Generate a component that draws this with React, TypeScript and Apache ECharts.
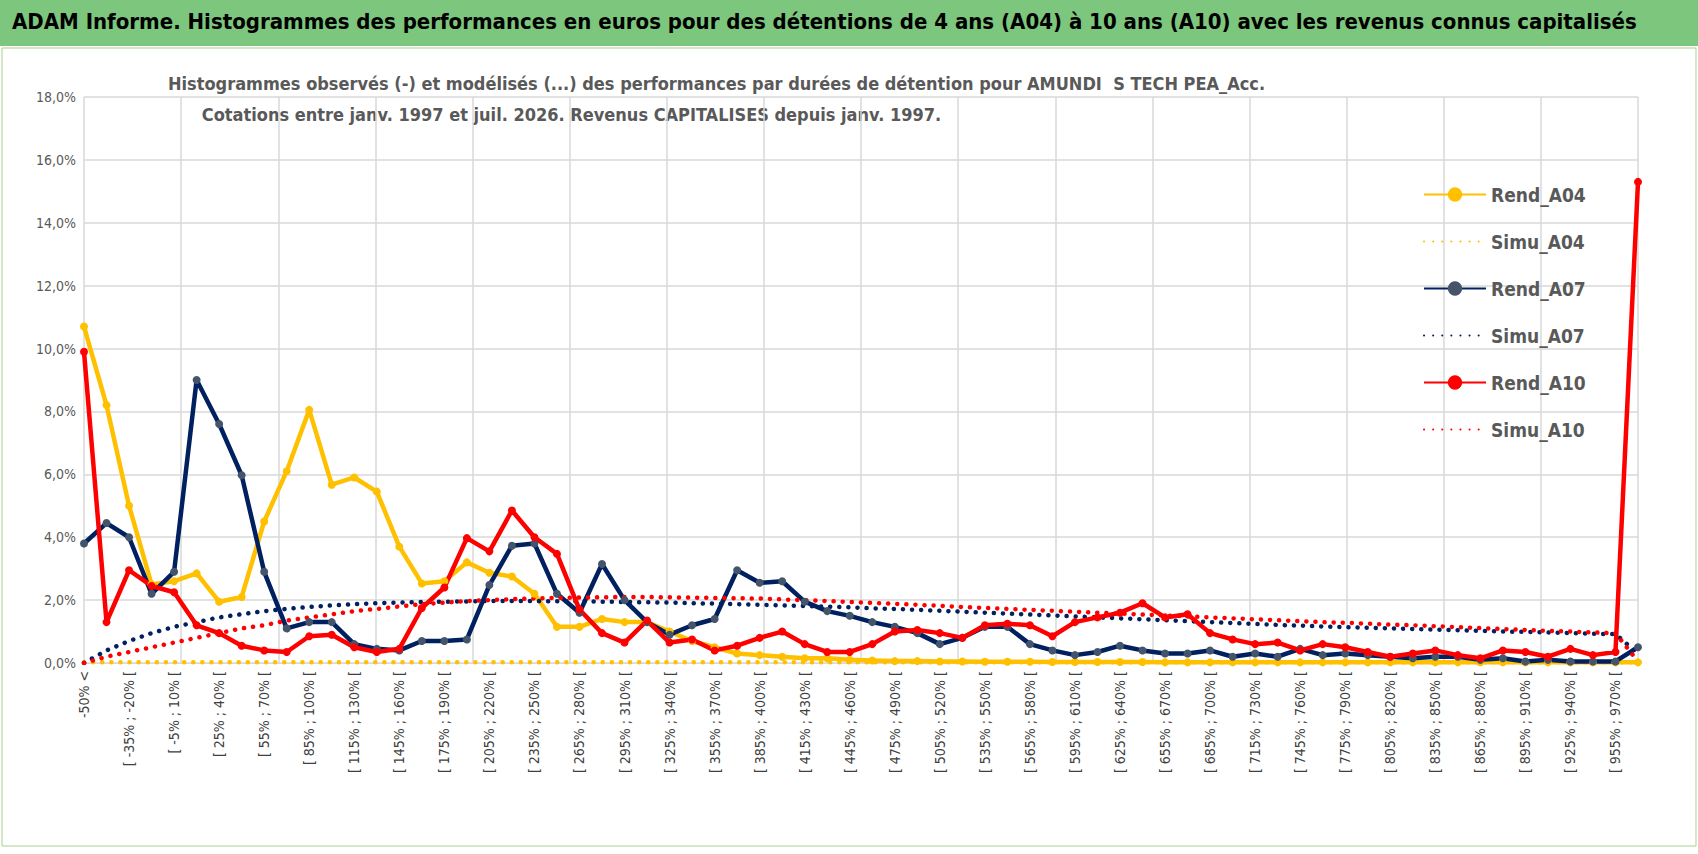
import React, { useEffect, useRef } from "react";
import * as echarts from "echarts";

const starts: number[] = [];
for (let a = -50; a <= 955; a += 15) starts.push(a);
const categories: string[] = ["-50% <", ...starts.map((a) => `[ ${a}% ; ${a + 15}% [`), "985% >="];

const rendA04 = [10.7, 8.2, 5.0, 2.5, 2.6, 2.85, 1.95, 2.1, 4.5, 6.1, 8.05, 5.67, 5.9, 5.45, 3.7, 2.53, 2.6, 3.2, 2.87, 2.75, 2.2, 1.15, 1.15, 1.4, 1.3, 1.3, 1.0, 0.7, 0.5, 0.3, 0.25, 0.2, 0.15, 0.15, 0.1, 0.08, 0.06, 0.06, 0.05, 0.05, 0.04, 0.04, 0.04, 0.03, 0.03, 0.03, 0.03, 0.03, 0.02, 0.02, 0.02, 0.02, 0.02, 0.02, 0.02, 0.02, 0.02, 0.02, 0.02, 0.02, 0.02, 0.02, 0.02, 0.02, 0.02, 0.02, 0.02, 0.02, 0.02, 0.02];
const simuA04 = [0.02, 0.02, 0.02, 0.02, 0.02, 0.02, 0.02, 0.02, 0.02, 0.02, 0.02, 0.02, 0.02, 0.02, 0.02, 0.02, 0.02, 0.02, 0.02, 0.02, 0.02, 0.02, 0.02, 0.02, 0.02, 0.02, 0.02, 0.02, 0.02, 0.02, 0.02, 0.02, 0.02, 0.02, 0.02, 0.02, 0.02, 0.02, 0.02, 0.02, 0.02, 0.02, 0.02, 0.02, 0.02, 0.02, 0.02, 0.02, 0.02, 0.02, 0.02, 0.02, 0.02, 0.02, 0.02, 0.02, 0.02, 0.02, 0.02, 0.02, 0.02, 0.02, 0.02, 0.02, 0.02, 0.02, 0.02, 0.02, 0.02, 0.02];
const rendA07 = [3.8, 4.45, 4.0, 2.2, 2.9, 9.0, 7.6, 5.97, 2.9, 1.1, 1.3, 1.3, 0.6, 0.45, 0.4, 0.7, 0.7, 0.75, 2.48, 3.73, 3.8, 2.2, 1.6, 3.15, 2.0, 1.3, 0.9, 1.2, 1.4, 2.95, 2.55, 2.6, 1.95, 1.65, 1.5, 1.3, 1.15, 0.95, 0.6, 0.8, 1.15, 1.15, 0.6, 0.4, 0.25, 0.35, 0.55, 0.4, 0.3, 0.3, 0.4, 0.2, 0.3, 0.2, 0.45, 0.25, 0.3, 0.25, 0.2, 0.15, 0.2, 0.2, 0.1, 0.15, 0.05, 0.1, 0.05, 0.05, 0.05, 0.5];
const simuA07 = [0.0, 0.4, 0.7, 0.95, 1.15, 1.3, 1.45, 1.55, 1.65, 1.72, 1.78, 1.83, 1.87, 1.9, 1.92, 1.94, 1.95, 1.96, 1.97, 1.97, 1.97, 1.96, 1.96, 1.95, 1.94, 1.93, 1.92, 1.9, 1.89, 1.87, 1.85, 1.83, 1.81, 1.79, 1.77, 1.74, 1.72, 1.69, 1.66, 1.63, 1.6, 1.57, 1.54, 1.51, 1.48, 1.45, 1.42, 1.39, 1.36, 1.33, 1.3, 1.27, 1.24, 1.21, 1.19, 1.16, 1.14, 1.12, 1.1, 1.08, 1.06, 1.04, 1.02, 1.0, 0.99, 0.97, 0.95, 0.93, 0.92, 0.3];
const rendA10 = [9.9, 1.3, 2.95, 2.45, 2.25, 1.2, 0.95, 0.55, 0.4, 0.35, 0.85, 0.9, 0.5, 0.35, 0.45, 1.75, 2.4, 3.97, 3.55, 4.85, 4.0, 3.47, 1.7, 0.95, 0.65, 1.35, 0.65, 0.75, 0.4, 0.55, 0.8, 1.0, 0.6, 0.35, 0.35, 0.6, 1.0, 1.05, 0.95, 0.8, 1.2, 1.25, 1.2, 0.85, 1.3, 1.45, 1.6, 1.9, 1.45, 1.55, 0.95, 0.75, 0.6, 0.65, 0.4, 0.6, 0.5, 0.35, 0.2, 0.3, 0.4, 0.25, 0.15, 0.4, 0.35, 0.2, 0.45, 0.25, 0.35, 15.3];
const simuA10 = [0.0, 0.2, 0.35, 0.5, 0.65, 0.8, 0.95, 1.1, 1.2, 1.35, 1.45, 1.55, 1.65, 1.72, 1.8, 1.87, 1.92, 1.97, 2.0, 2.03, 2.05, 2.07, 2.08, 2.09, 2.1, 2.1, 2.09, 2.08, 2.07, 2.06, 2.05, 2.02, 2.0, 1.97, 1.94, 1.91, 1.88, 1.85, 1.82, 1.78, 1.75, 1.72, 1.69, 1.66, 1.63, 1.6, 1.57, 1.54, 1.51, 1.48, 1.45, 1.42, 1.39, 1.36, 1.33, 1.3, 1.28, 1.25, 1.22, 1.2, 1.17, 1.14, 1.11, 1.08, 1.05, 1.02, 1.0, 0.97, 0.95, 0.05];

const FONT = "'Liberation Sans Narrow', 'DejaVu Sans Condensed', 'Liberation Sans', sans-serif";
const YEL = "#FFC000", NAVY = "#002060", RED = "#FF0000";

export default function App() {
  const ref = useRef<HTMLDivElement>(null);
  useEffect(() => {
    const chart = echarts.init(ref.current!, null, { renderer: "svg" });
    const solid = (name: string, data: number[], color: string, sym: string) => ({
      name, type: "line", data, symbol: "circle", symbolSize: 8,
      itemStyle: { color: sym }, lineStyle: { color, width: 4.5 }, color,
    });
    const dotted = (name: string, data: number[], color: string) => ({
      name, type: "line", data, symbol: "none", color, lineStyle: { color, width: 4.5, type: [0.1, 9], cap: "round" },
    });
    const hid = (name: string) => ({ name, itemStyle: { opacity: 0 } });
    chart.setOption({
      animation: false,
      backgroundColor: "#fff",
      textStyle: { fontFamily: FONT },
      graphic: [
        { type: "rect", shape: { x: 0, y: 0, width: 1698, height: 46 }, style: { fill: "#7DC67D" } },
        { type: "rect", shape: { x: 2, y: 48, width: 1694, height: 798 }, style: { fill: "none", stroke: "#a9d18e", lineWidth: 1 } },
        { type: "text", left: 12, top: 10, style: { text: "ADAM Informe. Histogrammes des performances en euros pour des détentions de 4 ans (A04) à 10 ans (A10) avec les revenus connus capitalisés", font: `bold 22px ${FONT}`, fill: "#000" } },
        { type: "text", left: 168, top: 68, style: { text: "Histogrammes observés (-) et modélisés (...) des performances par durées de détention pour AMUNDI  S TECH PEA_Acc.\n      Cotations entre janv. 1997 et juil. 2026. Revenus CAPITALISES depuis janv. 1997.", font: `bold 18px ${FONT}`, fill: "#595959", lineHeight: 31 } },
      ],
      legend: {
        orient: "vertical", left: 1418, top: 180, itemGap: 28, itemWidth: 62, itemHeight: 18,
        textStyle: { fontSize: 19, fontWeight: "bold", color: "#595959", fontFamily: FONT },
        data: ["Rend_A04", hid("Simu_A04"), "Rend_A07", hid("Simu_A07"), "Rend_A10", hid("Simu_A10")],
      },
      grid: { left: 84, right: 60, top: 97, bottom: 191 },
      xAxis: [
        {
          type: "category", data: categories, boundaryGap: false,
          axisLine: { lineStyle: { color: "#d9d9d9" } }, axisTick: { show: false },
          axisLabel: { interval: 1, rotate: 90, fontSize: 14, color: "#404040", fontFamily: FONT },
          splitLine: { show: false },
        },
        {
          type: "value", min: 0, max: 69, interval: 4.3125, show: true, position: "bottom",
          axisLabel: { show: false }, axisLine: { show: false }, axisTick: { show: false },
          splitLine: { show: true, lineStyle: { color: "#d9d9d9", width: 1.5 } },
        },
      ],
      yAxis: {
        type: "value", min: 0, max: 18, interval: 2,
        axisLabel: { formatter: (v: number) => v.toFixed(1).replace(".", ",") + "%", fontSize: 14, color: "#595959" },
        splitLine: { lineStyle: { color: "#d9d9d9", width: 1.5 } },
        axisLine: { show: false }, axisTick: { show: false },
      },
      series: [
        solid("Rend_A04", rendA04, YEL, YEL),
        dotted("Simu_A04", simuA04, YEL),
        solid("Rend_A07", rendA07, NAVY, "#44546A"),
        dotted("Simu_A07", simuA07, NAVY),
        solid("Rend_A10", rendA10, RED, RED),
        dotted("Simu_A10", simuA10, RED),
      ],
    });
    return () => chart.dispose();
  }, []);
  return <div ref={ref} style={{ position: "fixed", left: 0, top: 0, width: 1698, height: 854 }} />;
}
